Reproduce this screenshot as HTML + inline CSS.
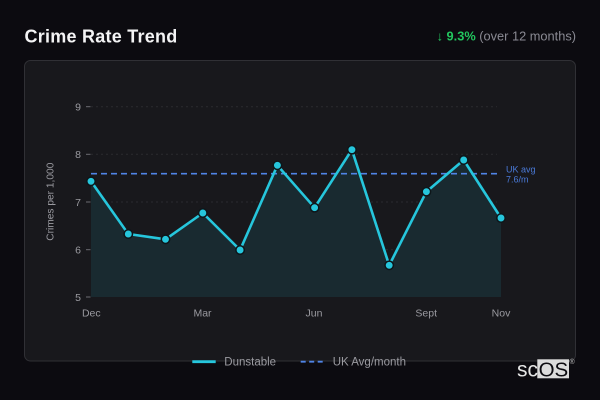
<!DOCTYPE html>
<html>
<head>
<meta charset="utf-8">
<style>
  html, body { margin: 0; padding: 0; background: #0c0b10; }
  body { width: 600px; height: 400px; overflow: hidden; }
  svg { display: block; font-family: "Liberation Sans", "DejaVu Sans", sans-serif; }
</style>
</head>
<body>
<svg width="600" height="400" viewBox="0 0 600 400" xmlns="http://www.w3.org/2000/svg">
  <rect x="0" y="0" width="600" height="400" fill="#0c0b10"/>

  <!-- Header -->
  <text x="24.5" y="42.7" font-size="18" font-weight="bold" fill="#f4f4f5" letter-spacing="0.25">Crime Rate Trend</text>
  <text x="576" y="40.5" font-size="12.8" text-anchor="end" fill="#8a8a93"><tspan fill="#22c55e">↓ </tspan><tspan fill="#22c55e" font-weight="bold">9.3%</tspan><tspan> (over 12 months)</tspan></text>

  <!-- Card -->
  <rect x="24.5" y="60.5" width="551" height="300.5" rx="6" ry="6" fill="#18181c" stroke="#303035" stroke-width="1"/>

  <!-- Grid lines -->
  <g stroke="#2a2a2f" stroke-width="1" stroke-dasharray="2 3">
    <line x1="91" y1="106.7" x2="497" y2="106.7"/>
    <line x1="91" y1="154.3" x2="497" y2="154.3"/>
    <line x1="91" y1="202" x2="497" y2="202"/>
    <line x1="91" y1="249.7" x2="497" y2="249.7"/>
  </g>
  <!-- Tick marks -->
  <g stroke="#6b6b72" stroke-width="1">
    <line x1="86" y1="106.7" x2="90.5" y2="106.7"/>
    <line x1="86" y1="154.3" x2="90.5" y2="154.3"/>
    <line x1="86" y1="202" x2="90.5" y2="202"/>
    <line x1="86" y1="249.7" x2="90.5" y2="249.7"/>
    <line x1="86" y1="297" x2="90.5" y2="297"/>
  </g>
  <!-- Y tick labels -->
  <g font-size="10.5" fill="#9a9aa0" text-anchor="end">
    <text x="81" y="110.5">9</text>
    <text x="81" y="158.1">8</text>
    <text x="81" y="205.8">7</text>
    <text x="81" y="253.5">6</text>
    <text x="81" y="300.8">5</text>
  </g>
  <!-- Y axis title -->
  <text x="0" y="0" font-size="10.2" fill="#9a9aa0" text-anchor="middle" transform="translate(53.5,201.7) rotate(-90)">Crimes per 1,000</text>

  <!-- Area -->
  <polygon fill="#192a30" points="91,181.3 128.3,234 165.5,239.3 202.8,213 240.1,250 277.4,165.3 314.6,207.7 351.9,149.7 389.2,265.3 426.4,191.7 463.7,160 501,218 501,297 91,297"/>

  <!-- UK avg dashed line -->
  <line x1="91" y1="173.7" x2="500" y2="173.7" stroke="#4f84e6" stroke-width="1.6" stroke-dasharray="6 4"/>
  <text x="506" y="172.3" font-size="9" fill="#4a7ad8">UK avg</text>
  <text x="506" y="182.6" font-size="9" fill="#4a7ad8">7.6/m</text>

  <!-- Series line -->
  <polyline fill="none" stroke="#26c6dc" stroke-width="2.6" stroke-linejoin="round" points="91,181.3 128.3,234 165.5,239.3 202.8,213 240.1,250 277.4,165.3 314.6,207.7 351.9,149.7 389.2,265.3 426.4,191.7 463.7,160 501,218"/>
  <g fill="#26c6dc" stroke="#0e161a" stroke-width="1.5">
    <circle cx="91" cy="181.3" r="4.2"/>
    <circle cx="128.3" cy="234" r="4.2"/>
    <circle cx="165.5" cy="239.3" r="4.2"/>
    <circle cx="202.8" cy="213" r="4.2"/>
    <circle cx="240.1" cy="250" r="4.2"/>
    <circle cx="277.4" cy="165.3" r="4.2"/>
    <circle cx="314.6" cy="207.7" r="4.2"/>
    <circle cx="351.9" cy="149.7" r="4.2"/>
    <circle cx="389.2" cy="265.3" r="4.2"/>
    <circle cx="426.4" cy="191.7" r="4.2"/>
    <circle cx="463.7" cy="160" r="4.2"/>
    <circle cx="501" cy="218" r="4.2"/>
  </g>

  <!-- X labels -->
  <g font-size="10.5" fill="#9a9aa0" text-anchor="middle">
    <text x="91.3" y="316.5">Dec</text>
    <text x="202.5" y="316.5">Mar</text>
    <text x="314" y="316.5">Jun</text>
    <text x="426.2" y="316.5">Sept</text>
    <text x="501" y="316.5">Nov</text>
  </g>

  <!-- Legend -->
  <line x1="192.3" y1="361.7" x2="215.7" y2="361.7" stroke="#26c6dc" stroke-width="2.8"/>
  <text x="224.3" y="365.7" font-size="11.5" fill="#9a9aa0">Dunstable</text>
  <line x1="300.7" y1="361.7" x2="325" y2="361.7" stroke="#4f84e6" stroke-width="1.8" stroke-dasharray="5 3.5"/>
  <text x="332.7" y="365.7" font-size="11.5" fill="#9a9aa0">UK Avg/month</text>

  <!-- Logo -->
  <text x="517" y="376.5" font-size="21" fill="#e6e6e6">sc</text>
  <rect x="537.3" y="359.3" width="31.7" height="19" fill="#dcdcdc"/>
  <text x="538.6" y="376.5" font-size="20.5" fill="#0c0b10">OS</text>
  <text x="569.5" y="364" font-size="7" fill="#bdbdbd">®</text>
</svg>
</body>
</html>
